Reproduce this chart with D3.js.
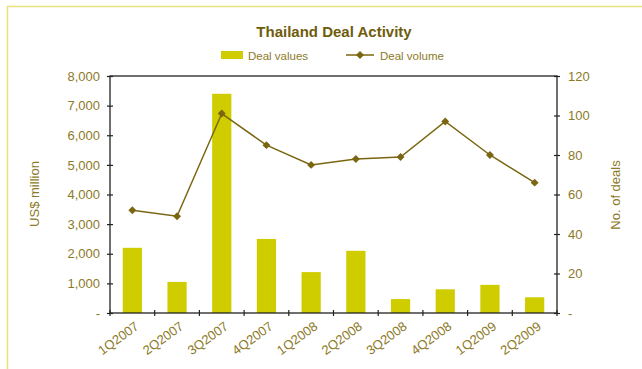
<!DOCTYPE html>
<html>
<head>
<meta charset="utf-8">
<script src="https://cdn.jsdelivr.net/npm/d3@7/dist/d3.min.js"></script>
<style>
  body { margin: 0; background: #fff; }
  text { font-family: "Liberation Sans", Arial, sans-serif; }
</style>
</head>
<body>
<div id="chart"></div>
<script>
var quarters = ["1Q2007", "2Q2007", "3Q2007", "4Q2007", "1Q2008", "2Q2008", "3Q2008", "4Q2008", "1Q2009", "2Q2009"];
var dealValues = [2200, 1050, 7400, 2500, 1380, 2100, 470, 800, 950, 530];
var dealVolume = [52, 49, 101, 85, 75, 78, 79, 97, 80, 66];
var leftTicks = [0, 1000, 2000, 3000, 4000, 5000, 6000, 7000, 8000];
var rightTicks = [0, 20, 40, 60, 80, 100, 120];

var W = 642, H = 369;
var margin = {top: 76, right: 85, bottom: 56, left: 110},
    width = W - margin.left - margin.right,
    height = H - margin.top - margin.bottom;

var barColor = "#cfcc00", lineColor = "#7a6610", textColor = "#8c7a28", titleColor = "#6e5c0c";

var svg = d3.select("#chart").append("svg")
    .attr("width", W)
    .attr("height", H);

// outer frame
svg.append("rect")
    .attr("x", 7.5).attr("y", 6.5)
    .attr("width", W).attr("height", H)
    .attr("fill", "none")
    .attr("stroke", "#e8e27c")
    .attr("stroke-width", 1.5);

svg.append("text")
    .attr("x", 334).attr("y", 37)
    .attr("text-anchor", "middle")
    .style("font-size", "15px").style("font-weight", "bold")
    .attr("fill", titleColor)
    .text("Thailand Deal Activity");

// legend
svg.append("rect").attr("x", 221).attr("y", 51).attr("width", 22).attr("height", 8).attr("fill", barColor);
svg.append("text").attr("x", 248).attr("y", 59.5).style("font-size", "11.5px").attr("fill", textColor).text("Deal values");
svg.append("line").attr("x1", 346).attr("x2", 374).attr("y1", 55).attr("y2", 55).attr("stroke", lineColor).attr("stroke-width", 1.5);
svg.append("path").attr("d", d3.symbol(d3.symbolDiamond2, 40)()).attr("transform", "translate(360,55)").attr("fill", lineColor);
svg.append("text").attr("x", 380).attr("y", 59.5).style("font-size", "11.5px").attr("fill", textColor).text("Deal volume");

var g = svg.append("g")
    .attr("transform", "translate(" + margin.left + "," + margin.top + ")");

var x = d3.scaleBand().domain(quarters).range([0, width]).paddingInner(0.57).paddingOuter(0.285);
var xb = d3.scaleBand().domain(quarters).range([0, width]);
var y1 = d3.scaleLinear().domain([0, 8000]).range([height, 0]);
var y2 = d3.scaleLinear().domain([0, 120]).range([height, 0]);

g.selectAll(".bar")
    .data(dealValues)
    .enter().append("rect")
    .attr("class", "bar")
    .attr("x", function(d, i) { return x(quarters[i]); })
    .attr("y", function(d) { return y1(d); })
    .attr("width", x.bandwidth())
    .attr("height", function(d) { return height - y1(d); })
    .attr("fill", barColor);

var fmt = d3.format(",");

// left axis
var yAxisL = d3.axisLeft(y1).tickValues(leftTicks).tickSize(3)
    .tickFormat(function(d) { return d === 0 ? "-" : fmt(d); });
var gl = g.append("g").call(yAxisL);
gl.select(".domain").remove();
gl.selectAll(".tick line").attr("x1", -3).attr("x2", 3).attr("stroke", "#222").attr("stroke-width", 1.2);
gl.selectAll(".tick text").attr("x", -10).attr("fill", textColor).style("font-size", "13px");

// right axis
var yAxisR = d3.axisRight(y2).tickValues(rightTicks).tickSize(3)
    .tickFormat(function(d) { return d === 0 ? "-" : d; });
var gr = g.append("g").attr("transform", "translate(" + width + ",0)").call(yAxisR);
gr.select(".domain").remove();
gr.selectAll(".tick line").attr("x1", -3).attr("x2", 3).attr("stroke", "#222").attr("stroke-width", 1.2);
gr.selectAll(".tick text").attr("x", 11).attr("fill", textColor).style("font-size", "13px");

// frame
g.append("rect")
    .attr("width", width).attr("height", height)
    .attr("fill", "none").attr("stroke", "#222").attr("stroke-width", 1.3);

// bottom category ticks
g.selectAll(".xtick")
    .data(quarters.concat(["end"]))
    .enter().append("line")
    .attr("x1", function(d, i) { return i * xb.step(); })
    .attr("x2", function(d, i) { return i * xb.step(); })
    .attr("y1", height - 3).attr("y2", height + 3)
    .attr("stroke", "#222").attr("stroke-width", 1.2);

g.selectAll(".xlab")
    .data(quarters)
    .enter().append("text")
    .attr("text-anchor", "end")
    .attr("transform", function(d) { return "translate(" + (x(d) + x.bandwidth() / 2 + 2) + "," + (height + 8) + ") rotate(-36)"; })
    .attr("dy", "0.7em")
    .style("font-size", "13px")
    .attr("fill", textColor)
    .text(function(d) { return d; });

// line
var line = d3.line()
    .x(function(d, i) { return x(quarters[i]) + x.bandwidth() / 2; })
    .y(function(d) { return y2(d); });

g.append("path")
    .datum(dealVolume)
    .attr("d", line)
    .attr("fill", "none")
    .attr("stroke", lineColor)
    .attr("stroke-width", 1.5);

g.selectAll(".pt")
    .data(dealVolume)
    .enter().append("path")
    .attr("d", d3.symbol(d3.symbolDiamond2, 40)())
    .attr("transform", function(d, i) { return "translate(" + (x(quarters[i]) + x.bandwidth() / 2) + "," + y2(d) + ")"; })
    .attr("fill", lineColor);

// axis titles
svg.append("text")
    .attr("transform", "translate(39,194) rotate(-90)")
    .attr("text-anchor", "middle")
    .style("font-size", "13px")
    .attr("fill", textColor)
    .text("US$ million");

svg.append("text")
    .attr("transform", "translate(620,195) rotate(-90)")
    .attr("text-anchor", "middle")
    .style("font-size", "13px")
    .attr("fill", textColor)
    .text("No. of deals");
</script>
</body>
</html>
